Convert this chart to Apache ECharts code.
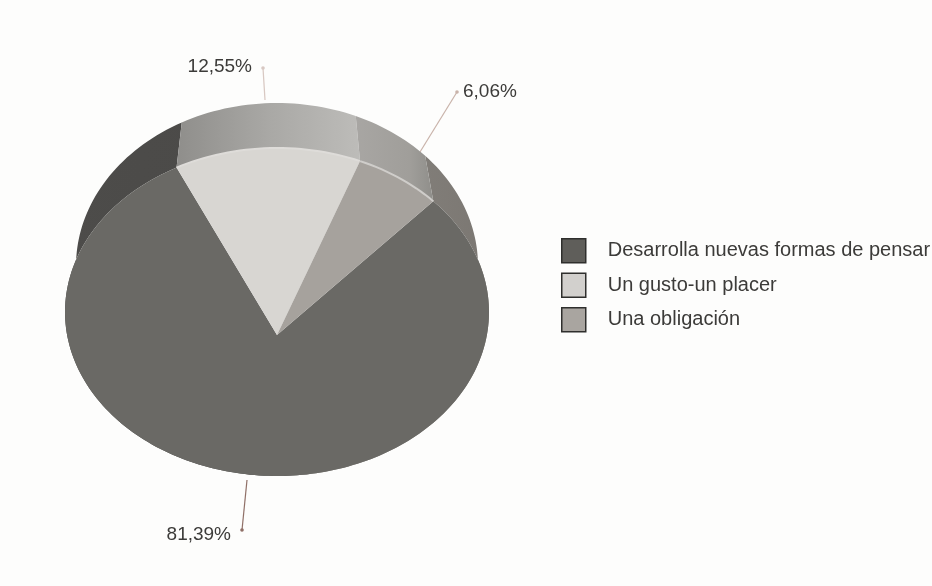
<!DOCTYPE html>
<html><head><meta charset="utf-8">
<style>html,body{margin:0;padding:0;background:#fdfdfc}#c{width:932px;height:586px;filter:blur(0.5px)}</style>
<script src="https://cdn.jsdelivr.net/npm/echarts@6/dist/echarts.min.js"></script>
</head><body><div id="c"></div>
<script>
const categories = ['Desarrolla nuevas formas de pensar', 'Un gusto-un placer', 'Una obligación'];
const shares = [81.39, 12.55, 6.06];
const legendColors = ['#5f5e5a', '#d2d0cd', '#a9a5a0'];
const faceColors = ['#6a6965', '#d8d6d2', '#a6a29d'];
const bandStops = [
  [[0,'#4d4c4a'],[0.55,'#4a4947'],[0.6,'#8a8782'],[1,'#7b7772']],
  [[0,'#8f8e8b'],[0.5,'#a9a8a5'],[1,'#bdbcb9']],
  [[0,'#a8a6a3'],[0.7,'#a09e9a'],[1,'#8f8e8a']]
];
const labelOrder = [0, 1, 2];
const drawOrder = [0, 1, 2];

const rim = {cx:277, cy:312, rx:212, ry:164};
const back = {cx:277, cy:266, rx:201, ry:163};
const apex = {x:277, y:335};
const firstAngle = 114.9;
const leaders = [
  {from:[247,480], to:[242,530], color:'#8f6f66', text:[231,535], align:'right'},
  {from:[265,100], to:[263,68],  color:'#d8c8c2', text:[252,67],  align:'right'},
  {from:[420,152], to:[457,92],  color:'#c9b3aa', text:[463,92],  align:'left'}
];

const total = shares.reduce((a,b)=>a+b,0);
function paramOf(deg){
  const d=deg*Math.PI/180, dx=Math.cos(d), dy=Math.sin(d);
  const oy=-(apex.y-rim.cy)/rim.ry;
  const b=oy*dy, c=oy*oy-1;
  const s=-b+Math.sqrt(b*b-c);
  return Math.atan2(oy+s*dy, s*dx);
}
function pt(e,t){return [e.cx+e.rx*Math.cos(t), e.cy-e.ry*Math.sin(t)];}
function startOf(i){
  // slices run clockwise: light, obligation, then the large dark slice
  const seq=[1,2,0]; let a=firstAngle;
  for(const k of seq){ if(k===i) return a; a-=shares[k]/total*360; }
}
function makeItem(i){
  return function(params, api){
    const v=api.value(0);
    const a0=startOf(i), sweep=v/total*360;
    const n=Math.max(8,Math.ceil(sweep/1.5));
    const ts=[];
    for(let k=0;k<=n;k++) ts.push(paramOf(a0-sweep*k/n));
    const rimPts=ts.map(t=>pt(rim,t));
    const backPts=ts.map(t=>pt(back,t));
    const band=backPts.concat(rimPts.slice().reverse());
    const face=[[apex.x,apex.y]].concat(rimPts);
    const children=[
      {type:'polygon',shape:{points:band},style:{fill:new echarts.graphic.LinearGradient(0,0,1,0,bandStops[i].map(s=>({offset:s[0],color:s[1]})))}},
      {type:'polygon',shape:{points:face},style:{fill:faceColors[i]}}
    ];
    if(i>0){
      children.push({type:'polyline',shape:{points:rimPts},style:{fill:'none',stroke:i===1?'#dedcd9':'#cfcdca',lineWidth:2}});
    }
    return {type:'group',children};
  };
}
const series=drawOrder.map(i=>({
  type:'custom',name:categories[i],coordinateSystem:'none',
  data:[[shares[i]]],encode:{},silent:true,animation:false,
  itemStyle:{color:legendColors[i]},
  renderItem:makeItem(i)
}));
const leaderGraphics=[];
labelOrder.forEach(i=>{
  const l=leaders[i];
  leaderGraphics.push({type:'line',shape:{x1:l.from[0],y1:l.from[1],x2:l.to[0],y2:l.to[1]},style:{stroke:l.color,lineWidth:1.2},silent:true});
  leaderGraphics.push({type:'circle',shape:{cx:l.to[0],cy:l.to[1],r:1.8},style:{fill:l.color},silent:true});
  leaderGraphics.push({type:'text',x:l.text[0],y:l.text[1],silent:true,style:{
    text:shares[i].toFixed(2).replace('.',',')+'%',
    fill:'#3c3b39',font:'19px "Liberation Sans"',textAlign:l.align,textVerticalAlign:'middle'}});
});
const chart=echarts.init(document.getElementById('c'),null,{renderer:'canvas'});
chart.setOption({
  backgroundColor:'#fdfdfc',animation:false,
  legend:{show:true,orient:'vertical',left:556,top:233,itemWidth:24,itemHeight:24,itemGap:9,
    icon:'rect',selectedMode:false,data:categories,
    itemStyle:{borderColor:'#2f2f2d',borderWidth:1.5},
    textStyle:{color:'#3c3b39',fontFamily:'Liberation Sans',fontSize:20,padding:[0,0,0,17]}},
  series,
  graphic:{elements:leaderGraphics}
});
</script></body></html>
